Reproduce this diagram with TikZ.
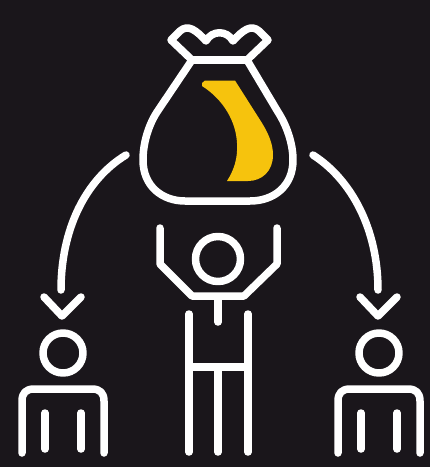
\documentclass[tikz,border=0pt]{standalone}
\definecolor{bagbg}{HTML}{1A161B}
\definecolor{bagyellow}{HTML}{F6C30D}
\tikzset{icon/.style={white,line width=7.5pt,line join=round,line cap=round}}
\begin{document}
\begin{tikzpicture}[x=1pt,y=-1pt,line join=round,line cap=round]
	\fill[bagbg] (0,0) rectangle (430,467);
	\useasboundingbox (0,0) rectangle (430,467);
	% bag
	\draw[icon] (192,60) -- (247,60);
	\draw[icon] (192,60) -- (171,40) -- (180,31) .. controls (188,24) and (196,30) .. (206,41)
		.. controls (212,30) and (227,30) .. (233,41)
		.. controls (243,30) and (251,24) .. (259,31) -- (268,40) -- (247,60);
	\draw[icon] (192,60) -- (157,112) .. controls (148,126) and (143,144) .. (143,160)
		.. controls (143,186) and (162,201) .. (185,201) -- (250,201)
		.. controls (274,201) and (293,186) .. (293,160)
		.. controls (293,144) and (287,126) .. (278,112) -- (247,60);
	\fill[bagyellow] (205,80.5) -- (235,80.5) -- (262,123)
		.. controls (270,136) and (273,146) .. (273,155)
		.. controls (273,171) and (262,181) .. (248,181) -- (227,181)
		.. controls (234,170) and (238,158) .. (237,143)
		.. controls (236,122) and (224,100) .. (202,86) -- (202,83) -- cycle;
	% arrows
	\draw[icon] (126,155) .. controls (85,180) and (61,230) .. (61,290);
	\draw[icon] (313,155) .. controls (352,180) and (378,230) .. (378,290);
	% middle figure
	\draw[icon] (218,259) circle (22.5);
	\draw[icon] (160,228) -- (160,264) -- (192,296) -- (244,296) -- (277,264) -- (277,228);
	\draw[icon] (218,298) -- (218,322);
	\foreach \x in {189,248}
	\draw[icon] (\x,314) -- (\x,452);
	\draw[icon] (218,367) -- (218,452);
	\draw[icon] (189,367) -- (248,367);
	% side figures
	\foreach \x in {63,379}
	{
	\draw[icon] (\x-19,297) -- (\x-1,316) -- (\x+18,297);
	\draw[icon] (\x,353) circle (20);
	\draw[icon] (\x-41,453) -- (\x-41,401) .. controls (\x-41,393) and (\x-37,389) .. (\x-29,389) -- (\x+29,389)
		.. controls (\x+37,389) and (\x+41,393) .. (\x+41,401) -- (\x+41,453);
	\draw[icon] (\x-18,413) -- (\x-18,449);
	\draw[icon] (\x+18,413) -- (\x+18,449);
	}
\end{tikzpicture}
\end{document}
